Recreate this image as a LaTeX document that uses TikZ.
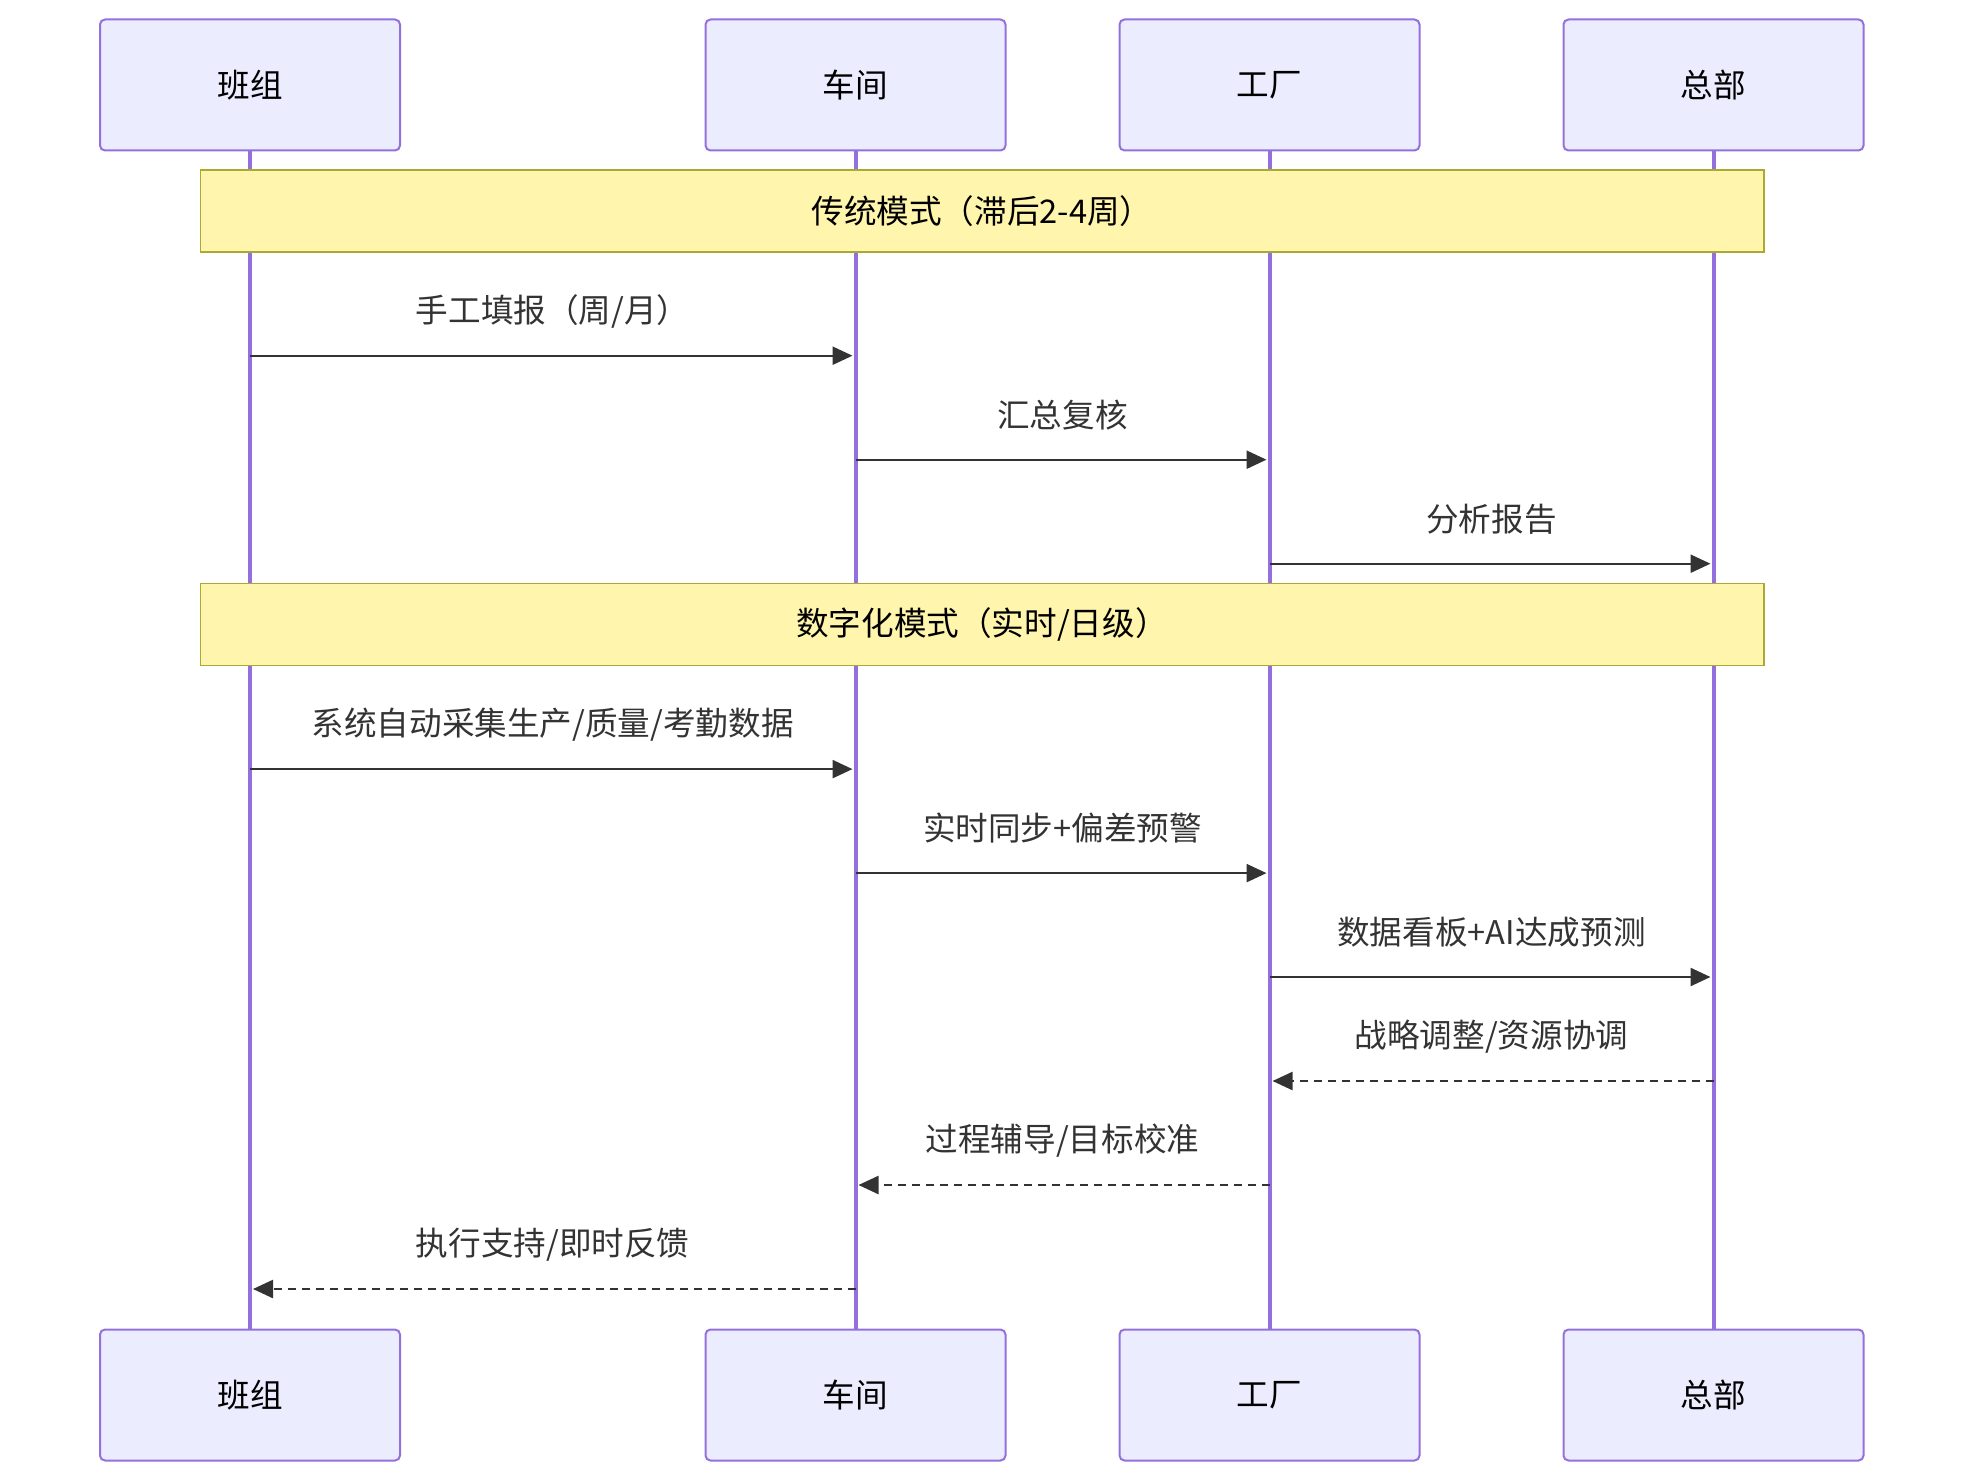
\documentclass[tikz,border=0pt]{standalone}
\usepackage{fontspec}
\setmainfont{Noto Sans CJK SC}
\usetikzlibrary{arrows.meta}
\definecolor{actfill}{HTML}{ECECFF}
\definecolor{actline}{HTML}{9370DB}
\definecolor{notefill}{HTML}{FFF5AD}
\definecolor{noteline}{HTML}{AAAA33}
\definecolor{msgcol}{HTML}{333333}
\begin{document}
\begin{tikzpicture}[x=0.5pt,y=-0.5pt,
  font=\fontsize{16.3pt}{19pt}\selectfont,
  actor/.style={draw=actline,fill=actfill,line width=1pt,rounded corners=2.5pt,
    minimum width=150pt,minimum height=65.5pt,inner sep=0pt,text=black},
  life/.style={draw=actline,line width=2pt},
  note/.style={draw=noteline,fill=notefill,line width=0.8pt,
    minimum width=781.7pt,minimum height=40.9pt,inner sep=0pt,text=black},
  msg/.style={draw=msgcol,line width=1.2pt,-{Triangle[length=10pt,width=9pt]},shorten >=1.5pt},
  reply/.style={msg,dash pattern=on 4pt off 3pt},
  lbl/.style={text=msgcol,inner sep=0pt}]
\useasboundingbox (0,0) rectangle (1964,1482);
% actors top
\node[actor] (t1) at (250,85) {班组};
\node[actor] (t2) at (855.5,85) {车间};
\node[actor] (t3) at (1269.5,85) {工厂};
\node[actor] (t4) at (1713.5,85) {总部};
% actors bottom
\node[actor] (b1) at (250,1395) {班组};
\node[actor] (b2) at (855.5,1395) {车间};
\node[actor] (b3) at (1269.5,1395) {工厂};
\node[actor] (b4) at (1713.5,1395) {总部};
% lifelines
\draw[life] (t1.south) -- (b1.north);
\draw[life] (t2.south) -- (b2.north);
\draw[life] (t3.south) -- (b3.north);
\draw[life] (t4.south) -- (b4.north);
% notes
\node[note] (n1) at (982,211) {传统模式（滞后2-4周）};
\node[note] (n2) at (982,624.4) {数字化模式（实时/日级）};
% message endpoints
\coordinate (p1a) at (250,355.7);   \coordinate (p1b) at (855.5,355.7);
\coordinate (p2a) at (855.5,459.7); \coordinate (p2b) at (1269.5,459.7);
\coordinate (p3a) at (1269.5,563.7);\coordinate (p3b) at (1713.5,563.7);
\coordinate (p4a) at (250,769.1);   \coordinate (p4b) at (855.5,769.1);
\coordinate (p5a) at (855.5,873.1); \coordinate (p5b) at (1269.5,873.1);
\coordinate (p6a) at (1269.5,977);  \coordinate (p6b) at (1713.5,977);
\coordinate (p7a) at (1713.5,1081); \coordinate (p7b) at (1269.5,1081);
\coordinate (p8a) at (1269.5,1185); \coordinate (p8b) at (855.5,1185);
\coordinate (p9a) at (855.5,1289);  \coordinate (p9b) at (250,1289);
% messages
\draw[msg] (p1a) -- (p1b);
\node[lbl] (l1) at (552.7,311) {手工填报（周/月）};
\draw[msg] (p2a) -- (p2b);
\node[lbl] (l2) at (1062.5,415) {汇总复核};
\draw[msg] (p3a) -- (p3b);
\node[lbl] (l3) at (1491.5,519) {分析报告};
\draw[msg] (p4a) -- (p4b);
\node[lbl] (l4) at (552.7,724.5) {系统自动采集生产/质量/考勤数据};
\draw[msg] (p5a) -- (p5b);
\node[lbl] (l5) at (1062.5,828.5) {实时同步+偏差预警};
\draw[msg] (p6a) -- (p6b);
\node[lbl] (l6) at (1491.5,932.5) {数据看板+AI达成预测};
\draw[reply] (p7a) -- (p7b);
\node[lbl] (l7) at (1491.5,1036.5) {战略调整/资源协调};
\draw[reply] (p8a) -- (p8b);
\node[lbl] (l8) at (1062.5,1140.5) {过程辅导/目标校准};
\draw[reply] (p9a) -- (p9b);
\node[lbl] (l9) at (552.7,1244.5) {执行支持/即时反馈};
\end{tikzpicture}
\end{document}
